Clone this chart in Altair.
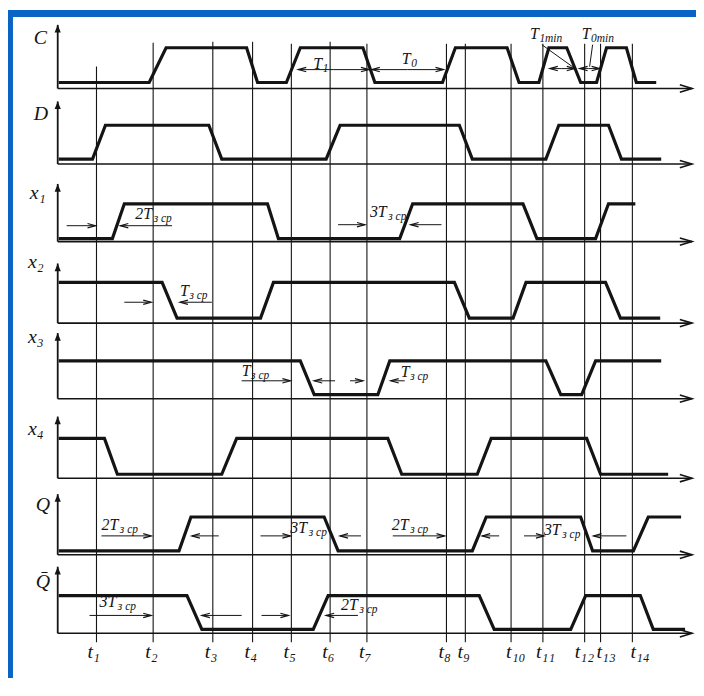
import altair as alt
import pandas as pd

# ---------------- time markers ----------------
t_names = ["t₁", "t₂", "t₃", "t₄", "t₅", "t₆", "t₇", "t₈", "t₉", "t₁₀", "t₁₁", "t₁₂", "t₁₃", "t₁₄"]
t_pos = [97, 154, 214, 254, 293, 332, 369, 449, 468, 514, 546, 588, 604, 636]
t_top = [65, 41, 40, 40, 42, 40, 42, 42, 42, 42, 42, 42, 42, 42]
t_bottom = 644
t_label_y = 654
t_label_shift = [-9, -8, -8, -8, -8, -8, -8, -8, -8, -5, -7, -10, -4, -2]

# ---------------- signals ----------------
sig_names = ["C", "D", "x1", "x2", "x3", "x4", "Q", "Qbar"]
sig_labels = ["C", "D", "x₁", "x₂", "x₃", "x₄", "Q", "Q̄"]
sig_label_x = [34, 34, 30, 28, 28, 28, 36, 36]
sig_label_y = [36, 113, 192, 262, 337, 430, 506, 583]
sig_base = [87, 163, 241, 323, 399, 479, 556, 635]
sig_low = [81, 158, 238, 318, 395, 475, 552, 631]
sig_high = [46, 124, 203, 282, 361, 439, 518, 597]
sig_axis_top = [23, 100, 183, 263, 333, 417, 495, 568]
axis_x0 = 58
axis_x1 = 696

C_x = [59, 150, 167, 248, 259, 288, 302, 365, 377, 445, 458, 510, 522, 542, 552, 570, 584, 600, 610, 630, 640, 660]
C_lv = [0, 0, 1, 1, 0, 0, 1, 1, 0, 0, 1, 1, 0, 0, 1, 1, 0, 0, 1, 1, 0, 0]
D_x = [59, 93, 106, 210, 223, 328, 342, 462, 475, 549, 562, 612, 625, 665]
D_lv = [0, 0, 1, 1, 0, 0, 1, 1, 0, 0, 1, 1, 0, 0]
x1_x = [59, 113, 125, 269, 280, 402, 415, 526, 540, 599, 612, 639]
x1_lv = [0, 0, 1, 1, 0, 0, 1, 1, 0, 0, 1, 1]
x2_x = [59, 163, 178, 262, 275, 457, 472, 516, 529, 609, 624, 664]
x2_lv = [1, 1, 0, 0, 1, 1, 0, 0, 1, 1, 0, 0]
x3_x = [59, 302, 316, 380, 392, 549, 564, 585, 599, 665]
x3_lv = [1, 1, 0, 0, 1, 1, 0, 0, 1, 1]
x4_x = [59, 105, 118, 223, 238, 390, 404, 480, 494, 590, 604, 672]
x4_lv = [1, 1, 0, 0, 1, 1, 0, 0, 1, 1, 0, 0]
Q_x = [59, 180, 192, 326, 340, 475, 489, 584, 596, 637, 652, 685]
Q_lv = [0, 0, 1, 1, 0, 0, 1, 1, 0, 0, 1, 1]
Qbar_x = [59, 188, 203, 315, 330, 482, 497, 574, 589, 644, 657, 689]
Qbar_lv = [1, 1, 0, 0, 1, 1, 0, 0, 1, 1, 0, 0]

# ---------------- dimension arrows (tail x, tip x, y) ----------------
dim_tail = [335, 335, 410, 410, 565, 565, 592, 592,
            67, 173, 340, 444,
            125, 213,
            243, 337, 352, 407,
            102, 220, 262, 363, 395, 502, 527, 630,
            90, 243, 263, 360]
dim_tip = [300, 371, 374, 446, 553, 578, 583, 603,
           96, 121, 367, 413,
           152, 181,
           292, 316, 365, 393,
           152, 193, 292, 342, 447, 485, 547, 597,
           152, 203, 290, 328]
dim_y = [68, 68, 68, 68, 67, 67, 67, 67,
         225, 225, 224, 224,
         302, 302,
         381, 381, 381, 381,
         537, 537, 537, 537, 537, 537, 537, 537,
         617, 617, 617, 617]

# leader lines from T1min / T0min labels
lead_x = [545, 596]
lead_y = [43, 43]
lead_x2 = [577, 593]
lead_y2 = [66, 65]

# ---------------- annotation labels ----------------
ann_main = ["T", "T", "T", "T", "2T", "3T", "T", "T", "T", "2T", "3T", "2T", "3T", "3T", "2T"]
ann_sub = ["1", "0", "1min", "0min", "з ср", "з ср", "з ср", "з ср", "з ср",
           "з ср", "з ср", "з ср", "з ср", "з ср", "з ср"]
ann_x = [315, 404, 533, 585, 136, 372, 181, 243, 403, 102, 292, 394, 547, 100, 343]
ann_y = [62, 57, 32, 32, 213, 211, 291, 371, 372, 526, 529, 526, 531, 604, 607]

# blue frame of the slide (left and top bands)
frame_x = [8, 8]
frame_x2 = [13, 700]
frame_y = [8, 8]
frame_y2 = [680, 15]

# ---------------- build tables ----------------
waves = {"C": (C_x, C_lv), "D": (D_x, D_lv), "x1": (x1_x, x1_lv), "x2": (x2_x, x2_lv),
         "x3": (x3_x, x3_lv), "x4": (x4_x, x4_lv), "Q": (Q_x, Q_lv), "Qbar": (Qbar_x, Qbar_lv)}
rows = []
for k, name in enumerate(sig_names):
    xs_, lv_ = waves[name]
    for i, (xv, lv) in enumerate(zip(xs_, lv_)):
        rows.append({"sig": name, "i": i, "x": xv,
                     "y": sig_low[k] + lv * (sig_high[k] - sig_low[k])})
wave_df = pd.DataFrame(rows)

sig_df = pd.DataFrame({"sig": sig_names, "label": sig_labels, "lx": sig_label_x, "ly": sig_label_y,
                       "base": sig_base, "top": sig_axis_top})
sig_df["x0"] = axis_x0
sig_df["x1"] = axis_x1
sig_df["ang_h"] = 0
sig_df["ang_v"] = 270

t_df = pd.DataFrame({"name": t_names, "x": t_pos, "top": t_top, "shift": t_label_shift})
t_df["bottom"] = t_bottom
t_df["ly"] = t_label_y
t_df["lx"] = t_df["x"] + t_df["shift"]

dim_df = pd.DataFrame({"tail": dim_tail, "tip": dim_tip, "y": dim_y})
dim_df["ang"] = [0 if b > a else 180 for a, b in zip(dim_tail, dim_tip)]

lead_df = pd.DataFrame({"x": lead_x, "y": lead_y, "x2": lead_x2, "y2": lead_y2})

ann_df = pd.DataFrame({"main": ann_main, "sub": ann_sub, "x": ann_x, "y": ann_y})
ann_df["sx"] = ann_df["x"] + ann_df["main"].str.len() * 9 + 0.5
ann_df["sy"] = ann_df["y"] + 5

frame_df = pd.DataFrame({"x": frame_x, "x2": frame_x2, "y": frame_y, "y2": frame_y2})

# ---------------- scales ----------------
xs = alt.Scale(domain=[8, 700], nice=False, zero=False)
ys = alt.Scale(domain=[8, 680], reverse=True, nice=False, zero=False)
INK = "#141414"
SERIF = "Liberation Serif"


def X(f):
    return alt.X(f, type="quantitative", scale=xs, axis=None)


def Y(f):
    return alt.Y(f, type="quantitative", scale=ys, axis=None)


frame = alt.Chart(frame_df).mark_rect(color="#0a64c6").encode(
    x=X("x"), x2="x2", y=Y("y"), y2="y2")

grid = alt.Chart(t_df).mark_rule(color=INK, strokeWidth=1.1).encode(
    x=X("x"), y=Y("top"), y2="bottom")

h_axes = alt.Chart(sig_df).mark_rule(color=INK, strokeWidth=1.6).encode(
    x=X("x0"), x2="x1", y=Y("base"))
v_axes = alt.Chart(sig_df).mark_rule(color=INK, strokeWidth=1.8).encode(
    x=X("x0"), y=Y("base"), y2="top")

head_shape = "M-2,-0.6L0,0L-2,0.6"
h_heads = alt.Chart(sig_df).mark_point(shape=head_shape, filled=False, color=INK, strokeWidth=1.6,
                                       size=150, opacity=1).encode(
    x=X("x1"), y=Y("base"), angle=alt.Angle("ang_h:Q", scale=None))
v_heads = alt.Chart(sig_df).mark_point(shape="M-2,-0.8L0,0L-2,0.8Z", filled=True, color=INK,
                                       size=60, opacity=1).encode(
    x=X("x0"), y=Y("top"), angle=alt.Angle("ang_v:Q", scale=None))

waves_layer = alt.Chart(wave_df).mark_line(color=INK, strokeWidth=3.2, strokeJoin="miter").encode(
    x=X("x"), y=Y("y"), detail="sig:N", order="i:Q")

dim_lines = alt.Chart(dim_df).mark_rule(color=INK, strokeWidth=1).encode(
    x=X("tail"), x2="tip", y=Y("y"))
dim_heads = alt.Chart(dim_df).mark_point(shape="M-2,-0.55L0,0L-2,0.55", filled=False, color=INK,
                                         strokeWidth=1.2, size=64, opacity=1).encode(
    x=X("tip"), y=Y("y"), angle=alt.Angle("ang:Q", scale=None))

leads = alt.Chart(lead_df).mark_rule(color=INK, strokeWidth=1).encode(
    x=X("x"), x2="x2", y=Y("y"), y2="y2")

sig_text = alt.Chart(sig_df).mark_text(align="left", baseline="middle", font=SERIF,
                                       fontStyle="italic", fontSize=20, color=INK).encode(
    x=X("lx"), y=Y("ly"), text="label:N")

t_text = alt.Chart(t_df).mark_text(align="left", baseline="middle", font=SERIF,
                                   fontStyle="italic", fontSize=20, color=INK).encode(
    x=X("lx"), y=Y("ly"), text="name:N")

ann_text = alt.Chart(ann_df).mark_text(align="left", baseline="middle", font=SERIF,
                                       fontStyle="italic", fontSize=16, color=INK).encode(
    x=X("x"), y=Y("y"), text="main:N")
ann_subtext = alt.Chart(ann_df).mark_text(align="left", baseline="middle", font=SERIF,
                                          fontStyle="italic", fontSize=11.5, color=INK).encode(
    x=X("sx"), y=Y("sy"), text="sub:N")

chart = alt.layer(
    frame, grid, h_axes, v_axes, h_heads, v_heads, waves_layer, dim_lines, dim_heads, leads,
    sig_text, t_text, ann_text, ann_subtext
).properties(
    width=692, height=672,
    padding=0,
    autosize=alt.AutoSizeParams(type="none"),
    background="white",
).configure_view(fill="white", strokeWidth=0)

chart.save("out.html", embed_options={"renderer": "svg", "actions": False})
